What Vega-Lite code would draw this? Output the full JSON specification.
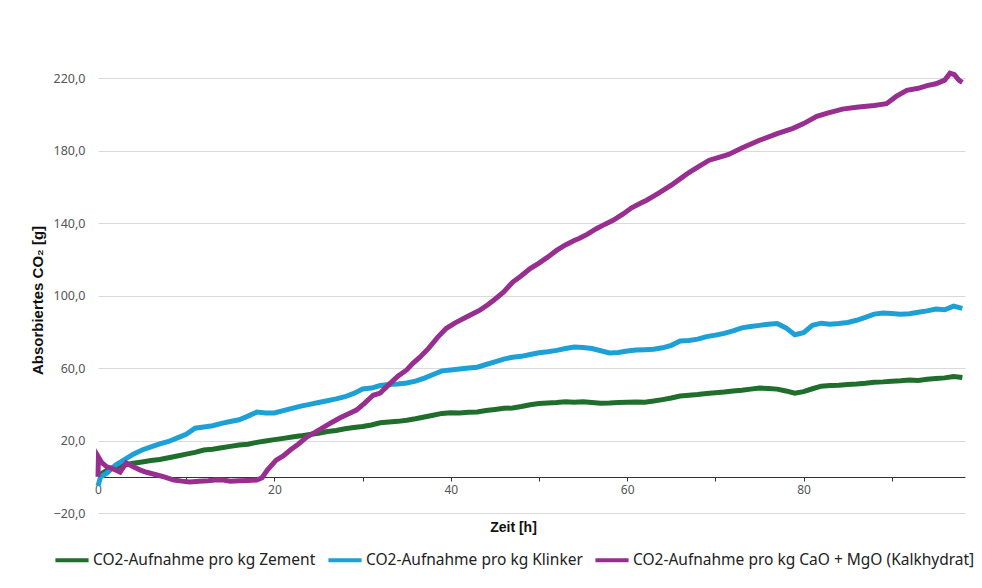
{
  "$schema": "https://vega.github.io/schema/vega-lite/v6.json",
  "width": 867,
  "height": 489,
  "autosize": {"type": "none"},
  "padding": {"left": 98, "top": 24, "right": 17, "bottom": 75},
  "background": "white",
  "config": {"view": {"stroke": null}, "font": "Noto Sans"},
  "datasets": {
    "zement": [
      {"h":0,"v":0},{"h":0.5,"v":2},{"h":1,"v":3.5},{"h":2,"v":5.4},{"h":3,"v":6.5},{"h":4,"v":7.5},{"h":5,"v":8.2},{"h":6,"v":9},{"h":7,"v":9.5},{"h":8,"v":10.5},{"h":9,"v":11.5},{"h":10,"v":12.5},{"h":11,"v":13.5},{"h":12,"v":14.8},{"h":13,"v":15.2},{"h":14,"v":16},{"h":15,"v":16.8},{"h":16,"v":17.5},{"h":17,"v":18},{"h":18,"v":19},{"h":19,"v":19.8},{"h":20,"v":20.5},{"h":21,"v":21.2},{"h":22,"v":22},{"h":23,"v":22.6},{"h":24,"v":23.4},{"h":25,"v":24},{"h":26,"v":25},{"h":27,"v":25.6},{"h":28,"v":26.5},{"h":29,"v":27.2},{"h":30,"v":27.8},{"h":31,"v":28.6},{"h":32,"v":29.8},{"h":33,"v":30.2},{"h":34,"v":30.6},{"h":35,"v":31.2},{"h":36,"v":32},{"h":37,"v":33},{"h":38,"v":34},{"h":39,"v":35},{"h":40,"v":35.4},{"h":41,"v":35.2},{"h":42,"v":35.6},{"h":43,"v":35.8},{"h":44,"v":36.6},{"h":45,"v":37.2},{"h":46,"v":37.8},{"h":47,"v":38},{"h":48,"v":38.8},{"h":49,"v":39.8},{"h":50,"v":40.4},{"h":51,"v":40.8},{"h":52,"v":41},{"h":53,"v":41.4},{"h":54,"v":41.2},{"h":55,"v":41.4},{"h":56,"v":41},{"h":57,"v":40.6},{"h":58,"v":40.7},{"h":59,"v":41},{"h":60,"v":41.2},{"h":61,"v":41.3},{"h":62,"v":41.2},{"h":63,"v":41.8},{"h":64,"v":42.6},{"h":65,"v":43.5},{"h":66,"v":44.6},{"h":67,"v":45},{"h":68,"v":45.4},{"h":69,"v":46},{"h":70,"v":46.4},{"h":71,"v":46.8},{"h":72,"v":47.4},{"h":73,"v":47.8},{"h":74,"v":48.4},{"h":75,"v":49},{"h":76,"v":48.8},{"h":77,"v":48.4},{"h":78,"v":47.4},{"h":79,"v":46.2},{"h":80,"v":47},{"h":81,"v":48.6},{"h":82,"v":50},{"h":83,"v":50.4},{"h":84,"v":50.6},{"h":85,"v":51},{"h":86,"v":51.2},{"h":87,"v":51.6},{"h":88,"v":52.2},{"h":89,"v":52.4},{"h":90,"v":52.8},{"h":91,"v":53},{"h":92,"v":53.4},{"h":93,"v":53.2},{"h":94,"v":53.8},{"h":95,"v":54.2},{"h":96,"v":54.6},{"h":97,"v":55.4},{"h":98,"v":54.8}
    ],
    "klinker": [
      {"h":0,"v":-5},{"h":0.3,"v":0},{"h":1,"v":2},{"h":2,"v":6.5},{"h":3,"v":9.5},{"h":4,"v":12.5},{"h":5,"v":14.8},{"h":6,"v":16.5},{"h":7,"v":18.2},{"h":8,"v":19.5},{"h":9,"v":21.5},{"h":10,"v":23.5},{"h":11,"v":26.8},{"h":12,"v":27.5},{"h":13,"v":28.2},{"h":14,"v":29.5},{"h":15,"v":30.5},{"h":16,"v":31.5},{"h":17,"v":33.5},{"h":18,"v":35.7},{"h":19,"v":35.2},{"h":20,"v":35.2},{"h":21,"v":36.5},{"h":22,"v":37.8},{"h":23,"v":39},{"h":24,"v":40},{"h":25,"v":41},{"h":26,"v":42},{"h":27,"v":43},{"h":28,"v":44.2},{"h":29,"v":46},{"h":30,"v":48.5},{"h":31,"v":49},{"h":32,"v":50.4},{"h":33,"v":51},{"h":34,"v":51.2},{"h":35,"v":51.8},{"h":36,"v":52.8},{"h":37,"v":54.5},{"h":38,"v":56.5},{"h":39,"v":58.5},{"h":40,"v":59},{"h":41,"v":59.5},{"h":42,"v":60},{"h":43,"v":60.5},{"h":44,"v":62},{"h":45,"v":63.5},{"h":46,"v":65},{"h":47,"v":66},{"h":48,"v":66.5},{"h":49,"v":67.5},{"h":50,"v":68.5},{"h":51,"v":69},{"h":52,"v":69.8},{"h":53,"v":70.8},{"h":54,"v":71.6},{"h":55,"v":71.4},{"h":56,"v":70.8},{"h":57,"v":69.6},{"h":58,"v":68.4},{"h":59,"v":68.6},{"h":60,"v":69.4},{"h":61,"v":70},{"h":62,"v":70.2},{"h":63,"v":70.4},{"h":64,"v":71.2},{"h":65,"v":72.6},{"h":66,"v":75},{"h":67,"v":75.2},{"h":68,"v":76},{"h":69,"v":77.4},{"h":70,"v":78.2},{"h":71,"v":79.2},{"h":72,"v":80.6},{"h":73,"v":82.2},{"h":74,"v":83},{"h":75,"v":83.6},{"h":76,"v":84.2},{"h":77,"v":84.6},{"h":78,"v":82.2},{"h":79,"v":78.4},{"h":80,"v":79.6},{"h":81,"v":83.6},{"h":82,"v":84.8},{"h":83,"v":84.2},{"h":84,"v":84.6},{"h":85,"v":85.2},{"h":86,"v":86.4},{"h":87,"v":88},{"h":88,"v":89.8},{"h":89,"v":90.4},{"h":90,"v":90.2},{"h":91,"v":89.8},{"h":92,"v":90},{"h":93,"v":90.8},{"h":94,"v":91.6},{"h":95,"v":92.6},{"h":96,"v":92.2},{"h":97,"v":94.2},{"h":98,"v":93}
    ],
    "kalk": [
      {"h":0,"v":0},{"h":0.05,"v":10.9},{"h":0.4,"v":8},{"h":1,"v":5.5},{"h":1.5,"v":4.8},{"h":2.5,"v":2.6},{"h":3.2,"v":7.6},{"h":4,"v":5.5},{"h":4.8,"v":3.7},{"h":5.5,"v":2.5},{"h":6.7,"v":1},{"h":7.5,"v":0},{"h":8.6,"v":-1.8},{"h":9.5,"v":-2.4},{"h":10.4,"v":-2.9},{"h":11.5,"v":-2.5},{"h":12.5,"v":-2.2},{"h":13.5,"v":-1.6},{"h":14.2,"v":-1.8},{"h":15,"v":-2.4},{"h":16,"v":-2.2},{"h":17,"v":-2},{"h":18,"v":-1.8},{"h":18.6,"v":-0.5},{"h":19.2,"v":3.7},{"h":20.2,"v":9.2},{"h":21,"v":11.5},{"h":21.8,"v":14.8},{"h":22.7,"v":18},{"h":23.7,"v":22},{"h":24.6,"v":24.5},{"h":25.6,"v":27.4},{"h":26.5,"v":30},{"h":27.4,"v":32.4},{"h":28.3,"v":34.5},{"h":29.3,"v":36.8},{"h":30.2,"v":40.5},{"h":31.2,"v":45},{"h":32,"v":46.2},{"h":33,"v":51},{"h":34,"v":55.5},{"h":35,"v":59},{"h":35.7,"v":62.6},{"h":36.5,"v":66},{"h":37.5,"v":71},{"h":38.5,"v":77},{"h":39.5,"v":82},{"h":40.5,"v":85},{"h":41.5,"v":87.5},{"h":42.5,"v":90},{"h":43.3,"v":92},{"h":44.2,"v":95},{"h":45,"v":98},{"h":46,"v":102},{"h":47,"v":107.4},{"h":48,"v":111},{"h":49,"v":115},{"h":50,"v":118},{"h":50.9,"v":121},{"h":52,"v":125},{"h":53,"v":128},{"h":54,"v":130.5},{"h":54.6,"v":131.7},{"h":55.5,"v":134},{"h":56.5,"v":137},{"h":57.5,"v":139.5},{"h":58.4,"v":141.6},{"h":59.5,"v":145},{"h":60.5,"v":148.5},{"h":61.5,"v":151},{"h":62.2,"v":152.7},{"h":63,"v":155},{"h":63.7,"v":157},{"h":65,"v":161},{"h":66,"v":164.5},{"h":67,"v":168},{"h":68,"v":171},{"h":69.3,"v":174.8},{"h":70.5,"v":176.5},{"h":71.5,"v":178},{"h":73,"v":181.5},{"h":75,"v":185.8},{"h":77,"v":189.5},{"h":78.8,"v":192.4},{"h":80,"v":195},{"h":81.5,"v":199},{"h":82.6,"v":200.7},{"h":84.4,"v":203},{"h":86,"v":204},{"h":88,"v":205},{"h":89.4,"v":206},{"h":90.5,"v":210},{"h":91.7,"v":213.4},{"h":93,"v":214.5},{"h":94,"v":216},{"h":95,"v":217},{"h":96,"v":219},{"h":96.6,"v":222.8},{"h":97.1,"v":222},{"h":97.6,"v":219},{"h":98,"v":217.8}
    ]
  },
  "encoding": {
    "x": {
      "field": "h", "type": "quantitative",
      "scale": {"domain": [0, 98.3], "nice": false, "zero": false},
      "axis": {
        "title": "Zeit [h]", "offset": -36,
        "values": [0, 10, 20, 30, 40, 50, 60, 70, 80, 90],
        "labelExpr": "datum.value % 20 == 0 ? datum.label : ''",
        "grid": false, "labelFlush": false,
        "domainColor": "#333333", "domainWidth": 1.2,
        "tickColor": "#333333", "tickSize": 4,
        "labelColor": "#555555", "labelFontSize": 12, "labelPadding": 3,
        "titleFont": "Liberation Sans",
        "titleFontSize": 14, "titleFontWeight": "bold", "titleColor": "#111111",
        "titleX": 415, "titleY": 50, "titleAlign": "center", "titleBaseline": "middle"
      }
    },
    "y": {
      "field": "v", "type": "quantitative",
      "scale": {"domain": [-20, 250], "nice": false, "zero": false},
      "axis": {
        "title": "Absorbiertes CO₂ [g]",
        "values": [-20, 20, 60, 100, 140, 180, 220],
        "format": ".1f", "labelExpr": "replace(datum.label, '.', ',')",
        "domain": false, "ticks": false,
        "gridColor": "#d9d9d9", "gridWidth": 1.2,
        "labelColor": "#555555", "labelFontSize": 12.5, "labelPadding": 13,
        "titleFont": "Liberation Sans",
        "titleFontSize": 15, "titleFontWeight": "bold", "titleColor": "#111111",
        "titleX": -61, "titleY": 276, "titleAlign": "center", "titleBaseline": "middle", "titleAngle": -90
      }
    }
  },
  "layer": [
    {
      "data": {"name": "zement"},
      "mark": {"type": "line", "strokeWidth": 5},
      "encoding": {
        "color": {
          "datum": "CO2-Aufnahme pro kg Zement",
          "scale": {
            "domain": ["CO2-Aufnahme pro kg Zement", "CO2-Aufnahme pro kg Klinker", "CO2-Aufnahme pro kg CaO + MgO (Kalkhydrat]"],
            "range": ["#1f6e2c", "#1da0d6", "#982e8f"]
          },
          "legend": {
            "orient": "none", "legendX": -45, "legendY": 517,
            "direction": "horizontal", "title": null,
            "symbolType": "stroke", "symbolSize": 1100, "symbolStrokeWidth": 4,
            "labelFontSize": 15.5, "labelColor": "#222222", "labelOffset": 2,
            "columnPadding": 4, "labelLimit": 450
          }
        }
      }
    },
    {
      "data": {"name": "klinker"},
      "mark": {"type": "line", "strokeWidth": 5},
      "encoding": {"color": {"datum": "CO2-Aufnahme pro kg Klinker"}}
    },
    {
      "data": {"name": "kalk"},
      "mark": {"type": "line", "strokeWidth": 5},
      "encoding": {"color": {"datum": "CO2-Aufnahme pro kg CaO + MgO (Kalkhydrat]"}}
    }
  ]
}
